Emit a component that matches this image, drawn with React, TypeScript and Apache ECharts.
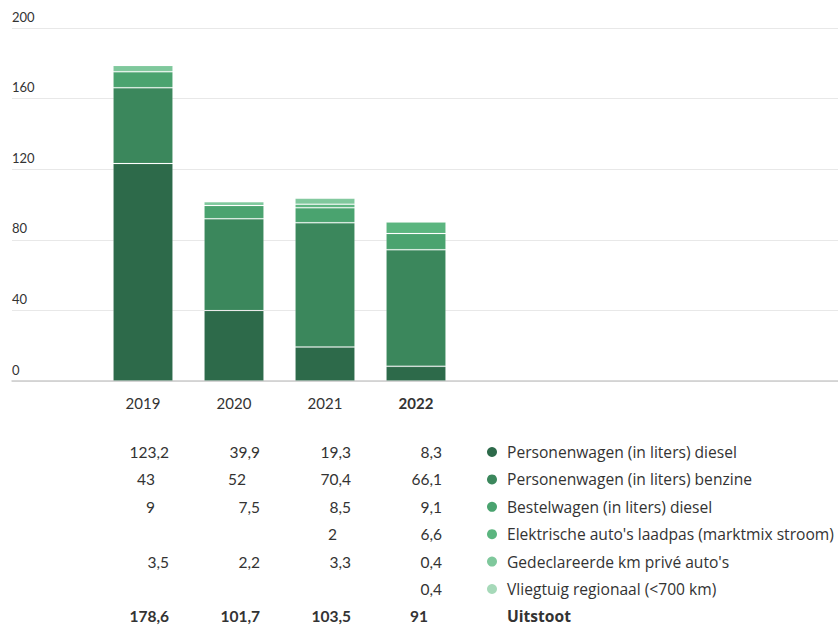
import React, { useEffect, useRef } from "react";
import * as echarts from "echarts";

const years = ["2019", "2020", "2021", "2022"];
const seriesNames = [
  "Personenwagen (in liters) diesel",
  "Personenwagen (in liters) benzine",
  "Bestelwagen (in liters) diesel",
  "Elektrische auto's laadpas (marktmix stroom)",
  "Gedeclareerde km privé auto's",
  "Vliegtuig regionaal (<700 km)",
];
const dieselPW: (number | null)[] = [123.2, 39.9, 19.3, 8.3];
const benzinePW: (number | null)[] = [43, 52, 70.4, 66.1];
const dieselBW: (number | null)[] = [9, 7.5, 8.5, 9.1];
const elektrisch: (number | null)[] = [null, null, 2, 6.6];
const gedeclareerd: (number | null)[] = [3.5, 2.2, 3.3, 0.4];
const vliegtuig: (number | null)[] = [null, null, null, 0.4];
const totals: number[] = [178.6, 101.7, 103.5, 91];
const totalLabel = "Uitstoot";
const yTicks = { min: 0, max: 200, interval: 40 };
const colors = ["#2d6a4a", "#3b875c", "#4aa36f", "#5bb57f", "#7fc89c", "#a6d9b9"];

const allSeries = [dieselPW, benzinePW, dieselBW, elektrisch, gedeclareerd, vliegtuig];

const FONT = "Lato, 'Source Sans Pro', sans-serif";
const LFONT = "'Open Sans', sans-serif";
const fmt = (v: number) => String(v).replace(".", ",");

export default function App() {
  const ref = useRef<HTMLDivElement>(null);
  useEffect(() => {
    if (!ref.current) return;
    const chart = echarts.init(ref.current, undefined, { renderer: "svg" });
    const top = 28;
    const height = 353;
    chart.setOption({
      animation: false,
      grid: [
        { left: 12, right: 0, top, height },
        { left: 97.5, width: 364, top, height },
      ],
      xAxis: [
        {
          type: "category",
          gridIndex: 0,
          data: [""],
          axisLine: { show: true, lineStyle: { color: "#cccccc", width: 1.5 } },
          axisTick: { show: false },
          axisLabel: { show: false },
        },
        {
          type: "category",
          gridIndex: 1,
          data: years,
          axisLine: { show: false },
          axisTick: { show: false },
          axisLabel: {
            margin: 14,
            color: "#333",
            fontFamily: FONT,
            fontSize: 15,
            formatter: (v: string, i: number) =>
              i === years.length - 1 ? `{b|${v}}` : v,
            rich: { b: { fontWeight: "bold", fontFamily: FONT, fontSize: 15, color: "#333" } },
          },
        },
      ],
      yAxis: [
        {
          type: "value",
          gridIndex: 0,
          ...yTicks,
          axisLine: { show: false },
          axisTick: { show: false },
          splitLine: { lineStyle: { color: "#e8e8e8", width: 1 } },
          axisLabel: {
            inside: true,
            margin: 0,
            verticalAlign: "bottom",
            padding: [0, 0, 5, 0],
            color: "#333",
            fontFamily: FONT,
            fontSize: 13,
          },
        },
        {
          type: "value",
          gridIndex: 1,
          ...yTicks,
          show: false,
          splitLine: { show: false },
        },
      ],
      series: allSeries.map((data, i) => ({
        type: "bar",
        name: seriesNames[i],
        xAxisIndex: 1,
        yAxisIndex: 1,
        stack: "total",
        barWidth: 60,
        data,
        itemStyle: {
          color: colors[i],
          borderColor: "rgba(255,255,255,0.1)",
          borderWidth: 1,
        },
      })),
    });

    const rowY0 = 452;
    const rowStep = 27.4;
    const graphics: any[] = [];
    years.forEach((y, ci) => {
      const cx = chart.convertToPixel({ xAxisIndex: 1 }, y) as number;
      const right = cx + 26;
      const rows = allSeries.map((s) => s[ci]);
      rows.forEach((v, ri) => {
        if (v == null) return;
        const isInt = Number.isInteger(v);
        graphics.push({
          type: "text",
          x: isInt ? right - 14 : right,
          y: rowY0 + ri * rowStep,
          style: {
            text: fmt(v),
            align: "right",
            verticalAlign: "middle",
            fill: "#333",
            font: `15.5px ${FONT}`,
            lineHeight: 16,
          },
        });
      });
      const t = totals[ci];
      graphics.push({
        type: "text",
        x: Number.isInteger(t) ? right - 14 : right,
        y: rowY0 + 6 * rowStep,
        style: {
          text: fmt(t),
          align: "right",
          verticalAlign: "middle",
          fill: "#333",
          font: `bold 15.5px ${FONT}`,
          lineHeight: 16,
        },
      });
    });
    seriesNames.forEach((n, i) => {
      graphics.push({
        type: "circle",
        shape: { cx: 492, cy: rowY0 + i * rowStep, r: 5 },
        style: { fill: colors[i] },
      });
      graphics.push({
        type: "text",
        x: 507,
        y: rowY0 + i * rowStep,
        style: {
          text: n,
          align: "left",
          verticalAlign: "middle",
          fill: "#333",
          font: `15.6px ${LFONT}`,
          lineHeight: 16,
        },
      });
    });
    graphics.push({
      type: "text",
      x: 507,
      y: rowY0 + 6 * rowStep,
      style: {
        text: totalLabel,
        align: "left",
        verticalAlign: "middle",
        fill: "#333",
        font: `bold 15.6px ${LFONT}`,
        lineHeight: 16,
      },
    });
    chart.setOption({ graphic: graphics });
    return () => chart.dispose();
  }, []);
  return (
    <div
      ref={ref}
      style={{ position: "fixed", left: 0, top: 0, width: 838, height: 628, background: "#fff" }}
    />
  );
}
